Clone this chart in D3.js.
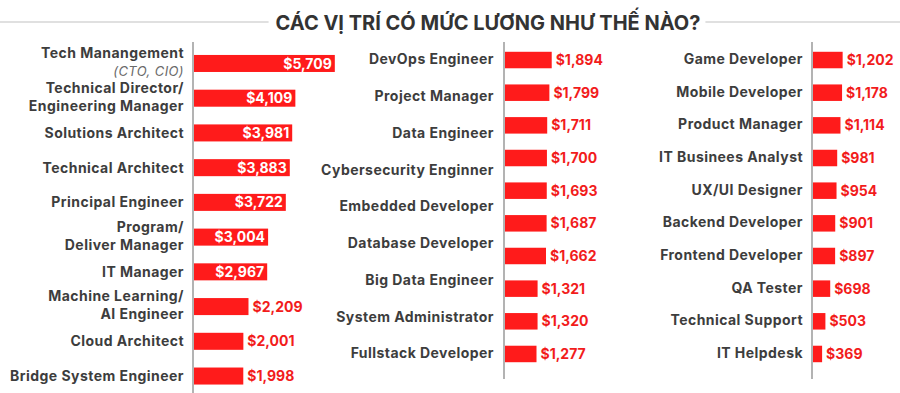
<!DOCTYPE html>
<html>
<head>
<meta charset="utf-8">
<script src="https://d3js.org/d3.v7.min.js"></script>
<style>
  body { margin: 0; background: #fff; }
  svg { display: block; font-family: Inter, "Open Sans", sans-serif; }
  .label { fill: #3d3d3d; font-weight: 700; font-size: 14px; letter-spacing: 0.45px; }
  .note { fill: #6a6a6a; font-style: italic; font-weight: 400; font-size: 13px; letter-spacing: 0.4px; }
  .value { font-weight: 700; font-size: 14px; }
  .bar { fill: #ff1b1b; }
  .axisline { stroke: #b3b3b3; stroke-width: 2; }
</style>
</head>
<body>
<svg width="900" height="393"></svg>
<script>
var title = "CÁC VỊ TRÍ CÓ MỨC LƯƠNG NHƯ THẾ NÀO?";

// left column (lines split by \n)
var leftLabels = ["Tech Manangement\n(CTO, CIO)", "Technical Director/\nEngineering Manager",
  "Solutions Architect", "Technical Architect", "Principal Engineer",
  "Program/\nDeliver Manager", "IT Manager", "Machine Learning/\nAI Engineer",
  "Cloud Architect", "Bridge System Engineer"];
var leftValues = [5709, 4109, 3981, 3883, 3722, 3004, 2967, 2209, 2001, 1998];

// middle column: the original shows 9 labels next to 10 bars
var midLabels = ["DevOps Engineer", "Project Manager", "Data Engineer", "Cybersecurity Enginner",
  "Embedded Developer", "Database Developer", "Big Data Engineer", "System Administrator",
  "Fullstack Developer"];
var midValues = [1894, 1799, 1711, 1700, 1693, 1687, 1662, 1321, 1320, 1277];

// right column
var rightLabels = ["Game Developer", "Mobile Developer", "Product Manager", "IT Businees Analyst",
  "UX/UI Designer", "Backend Developer", "Frontend Developer", "QA Tester",
  "Technical Support", "IT Helpdesk"];
var rightValues = [1202, 1178, 1114, 981, 954, 901, 897, 698, 503, 369];

var insideMin = 2500; // values above this get a white label inside the bar

var svg = d3.select("svg");
var fmt = d3.format("$,");

// title with grey rules on both sides
var t = svg.append("text")
  .attr("x", 488).attr("y", 30)
  .attr("text-anchor", "middle")
  .attr("font-size", "20px").attr("font-weight", 700)
  .attr("fill", "#333")
  .text(title);
var tb = t.node().getBBox();
svg.append("line").attr("x1", 0).attr("x2", tb.x - 7).attr("y1", 22).attr("y2", 22)
  .attr("stroke", "#d6d6d6").attr("stroke-width", 1.5);
svg.append("line").attr("x1", tb.x + tb.width + 5).attr("x2", 900).attr("y1", 22).attr("y2", 22)
  .attr("stroke", "#d6d6d6").attr("stroke-width", 1.5);

var x = d3.scaleLinear().domain([0, 6000]).range([0, 148]);

function panel(values, ax, yBand, axisBottom) {
  var g = svg.append("g").attr("transform", "translate(" + ax + ",0)");
  g.append("line").attr("class", "axisline")
    .attr("x1", -1).attr("x2", -1).attr("y1", 42).attr("y2", axisBottom);

  var idx = d3.range(values.length);
  g.selectAll(".bar").data(idx).enter().append("rect")
    .attr("class", "bar")
    .attr("x", 0)
    .attr("y", function(i) { return yBand(i); })
    .attr("width", function(i) { return x(values[i]); })
    .attr("height", yBand.bandwidth());

  g.selectAll(".value").data(idx).enter().append("text")
    .attr("class", "value")
    .attr("x", function(i) { return values[i] > insideMin ? x(values[i]) - 3 : x(values[i]) + 4; })
    .attr("y", function(i) { return yBand(i) + yBand.bandwidth() / 2; })
    .attr("dy", "0.36em")
    .attr("text-anchor", function(i) { return values[i] > insideMin ? "end" : "start"; })
    .attr("fill", function(i) { return values[i] > insideMin ? "#fff" : "#f21c1c"; })
    .text(function(i) { return fmt(values[i]); });
  return g;
}

function labels(list, lx, yCenter) {
  var g = svg.append("g");
  list.forEach(function(s, i) {
    var lines = s.split("\n");
    var cy = yCenter(i);
    lines.forEach(function(line, k) {
      var off = lines.length === 1 ? 0 : (k === 0 ? -10 : 8);
      g.append("text")
        .attr("class", /^\(.*\)$/.test(line) ? "note" : "label")
        .attr("x", lx).attr("y", cy + off)
        .attr("dy", "0.35em")
        .attr("text-anchor", "end")
        .text(line);
    });
  });
}

// left
var yLeft = d3.scaleBand().domain(d3.range(leftValues.length))
  .range([46.1, 393.4]).paddingInner(0.51).paddingOuter(0.255);
panel(leftValues, 194, yLeft, 393);
labels(leftLabels, 184, function(i) { return yLeft(i) + yLeft.bandwidth() / 2; });

// middle and right share the same row spacing
var yMid = d3.scaleBand().domain(d3.range(midValues.length))
  .range([43.7, 370.3]).paddingInner(0.495).paddingOuter(0.2475);
panel(midValues, 505, yMid, 379);
var yMidLab = d3.scalePoint().domain(d3.range(midLabels.length)).range([59.5, 353.5]);
labels(midLabels, 494, function(i) { return yMidLab(i); });

var yRight = yMid.copy().domain(d3.range(rightValues.length));
panel(rightValues, 813, yRight, 379);
labels(rightLabels, 803, function(i) { return yRight(i) + yRight.bandwidth() / 2 - 1; });
</script>
</body>
</html>
